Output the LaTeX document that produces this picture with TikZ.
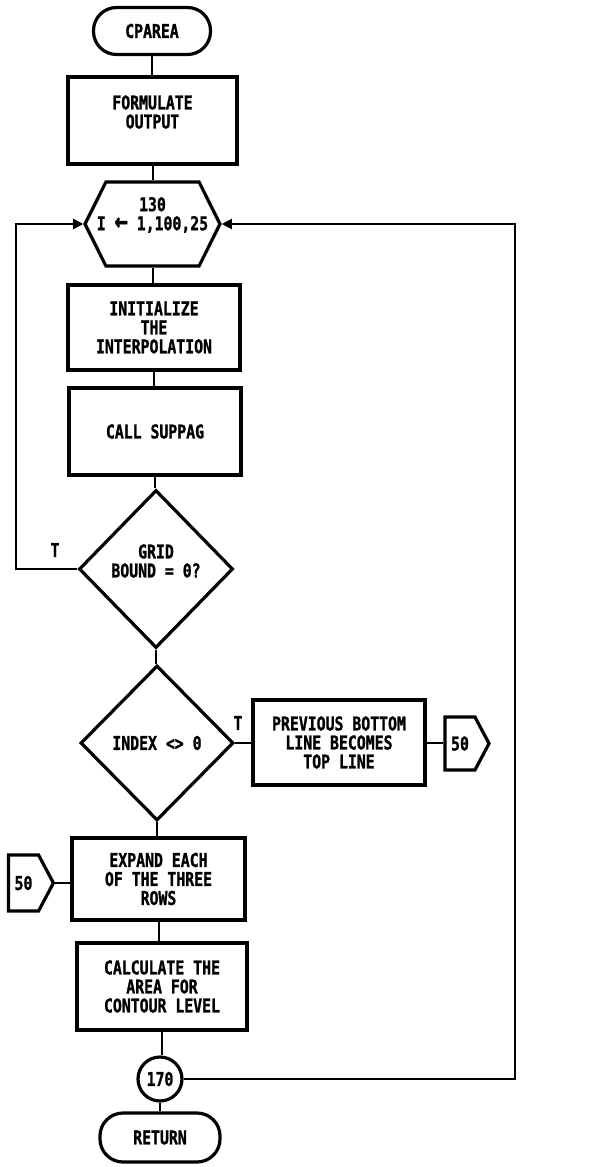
\documentclass[tikz,border=0pt]{standalone}
\usepackage{fontspec}
\newfontfamily\plotfont{DejaVu Sans Mono}[FakeStretch=0.78,FakeBold=1.2]
\usetikzlibrary{shapes.geometric,shapes.symbols,arrows.meta}
\begin{document}
\begin{tikzpicture}[x=1pt,y=-1pt,
  box/.style={draw, line width=3.2pt, inner sep=0pt},
  rectbox/.style={box, rectangle},
  term/.style={box, rectangle, rounded corners=23pt},
  txt/.style={font=\plotfont\bfseries\fontsize{19}{19}\selectfont, align=center, inner sep=0pt},
  line/.style={line width=2pt},
  arr/.style={line, -{Triangle[length=10pt,width=10pt]}},
  offpage/.style={box, signal, signal to=east, signal pointer angle=124}
]
\fill[white] (0,0) rectangle (595,1167);
\useasboundingbox (0,0) rectangle (595,1167);

% nodes
\node[term, txt, minimum width=117pt, minimum height=47pt] (start) at (152,31) {CPAREA};
\node[rectbox, minimum width=169pt, minimum height=87pt] (form) at (152.5,120.5) {};
\node[txt] (formT) at (152.5,112) {FORMULATE\\OUTPUT};

\node[box, signal, signal to=east and west, signal pointer angle=127,
      minimum width=135pt, minimum height=84pt] (loop) at (152.5,224) {};
\node[txt] (loopT) at (152.5,215) {130\\I {\fontsize{28}{19}\selectfont ←} 1,100,25};

\node[rectbox, txt, minimum width=172pt, minimum height=85pt] (init) at (154,327.5) {INITIALIZE\\THE\\INTERPOLATION};
\node[rectbox, txt, minimum width=172pt, minimum height=87pt] (call) at (155,431.5) {CALL SUPPAG};

\node[box, diamond, minimum width=154pt, minimum height=158pt] (grid) at (156,569) {};
\node[txt] (gridT) at (156,561) {GRID\\BOUND = 0?};
\node[txt] (t1) at (55,550) {T};

\node[box, diamond, txt, minimum width=153pt, minimum height=155pt] (index) at (157,743) {INDEX <> 0};
\node[txt] (t2) at (238,723) {T};
\node[rectbox, txt, minimum width=172pt, minimum height=85pt] (prev) at (339,742.5) {PREVIOUS BOTTOM\\LINE BECOMES\\TOP LINE};
\node[offpage, txt, minimum width=44pt, minimum height=53pt] (off1) at (460,743.5) {50};

\node[rectbox, txt, minimum width=173pt, minimum height=82pt] (expand) at (158.5,879) {EXPAND EACH\\OF THE THREE\\ROWS};
\node[offpage, txt, minimum width=45pt, minimum height=56pt] (off2) at (23.5,883) {50};

\node[rectbox, txt, minimum width=170pt, minimum height=87pt] (calc) at (162,986.5) {CALCULATE THE\\AREA FOR\\CONTOUR LEVEL};
\node[box, circle, txt, minimum size=44pt] (c170) at (160,1079) {170};
\node[term, txt, minimum width=120pt, minimum height=49pt] (ret) at (160,1137.5) {RETURN};

\coordinate (rc) at (515,1079);

% connectors
\draw[line] (start.south) -- (start.south |- form.north);
\draw[line] (form.south) -- (form.south |- loop.north);
\draw[line] (loop.south) -- (loop.south |- init.north);
\draw[line] (init.south) -- (init.south |- call.north);
\draw[line] (call.south) -- (call.south |- grid.north);
\draw[line] (grid.south) -- (grid.south |- index.north);
\draw[line] (index.south) -- (index.south |- expand.north);
\draw[line] (expand.south) -- (expand.south |- calc.north);
\draw[line] (calc.south) -- (calc.south |- c170.north);
\draw[line] (c170.south) -- (c170.south |- ret.north);
\draw[arr] (grid.west) -- ++(-61,0) |- (loop.west);
\draw[arr] (c170.east) -- (rc) |- (loop.east);
\draw[line] (index.east) -- (index.east -| prev.west);
\draw[line] (prev.east) -- (prev.east -| off1.west);
\draw[line] (off2.east) -- (off2.east -| expand.west);
\end{tikzpicture}
\end{document}
